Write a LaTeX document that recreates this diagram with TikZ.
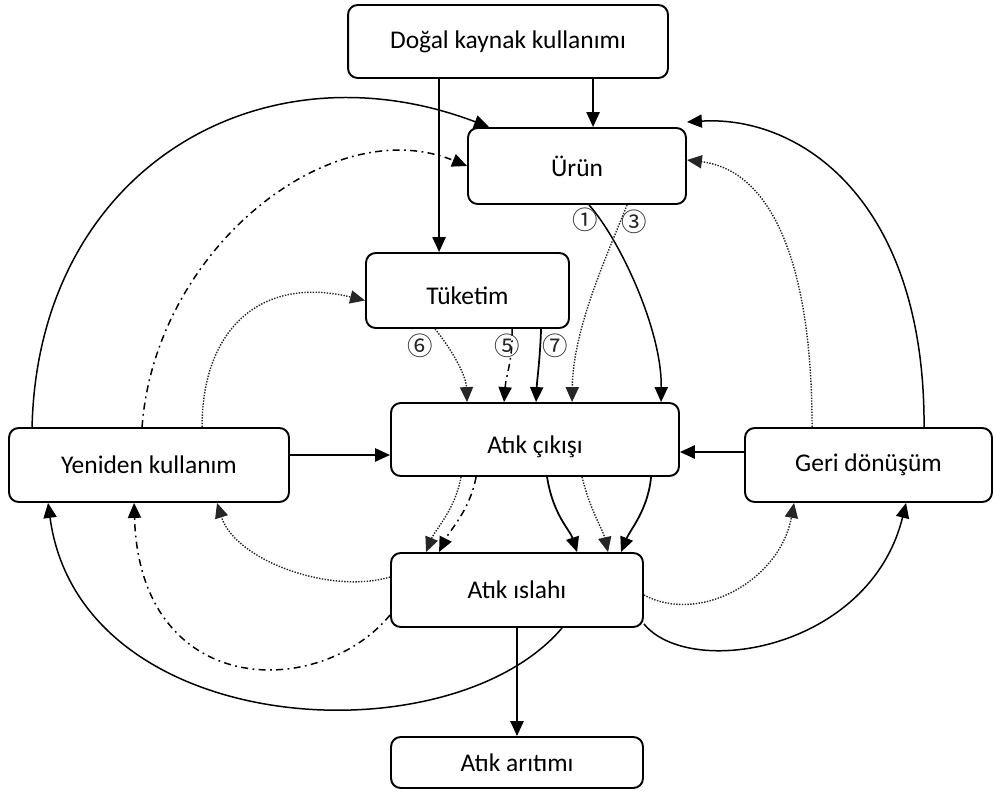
\documentclass[tikz,border=0pt]{standalone}
\usepackage{fontspec}
\setmainfont{Carlito}
\newfontfamily\circfont{Noto Sans CJK JP}
\usetikzlibrary{arrows.meta,calc}

\begin{document}
\begin{tikzpicture}[x=0.02cm,y=-0.02cm,
  box/.style={draw,line width=1.1pt,rounded corners=5.5pt,align=center,
    font=\fontsize{14.5}{17}\selectfont,inner sep=0pt},
  tip/.style={-{Triangle[length=8.5pt,width=7.5pt]}},
  main/.style={tip,line width=1.1pt},
  solidc/.style={tip,line width=0.85pt},
  dotc/.style={tip,line width=0.8pt,draw=black!85,dash pattern=on 0.8pt off 0.8pt},
  dashdotc/.style={tip,line width=0.85pt,dash pattern=on 4pt off 2.5pt on 1pt off 2.5pt},
  num/.style={font=\circfont\fontsize{14.5}{14.5}\selectfont,inner sep=0pt,text=black!85}
]
\useasboundingbox (0,0) rectangle (994,794);

% process boxes
\node[box,minimum width=6.4cm,minimum height=1.46cm]  (doga)   at (508,41.5)  {Doğal kaynak kullanımı};
\node[box,minimum width=4.36cm,minimum height=1.52cm] (urun)   at (577,166)   {Ürün};
\node[box,minimum width=4.06cm,minimum height=1.5cm]  (tuk)    at (467.5,290.5) {\raisebox{-0.28cm}[0pt][0pt]{Tüketim}};
\node[box,minimum width=5.76cm,minimum height=1.46cm] (cikis)  at (535,439.5) {\raisebox{-0.28cm}[0pt][0pt]{Atık çıkışı}};
\node[box,minimum width=5.6cm,minimum height=1.48cm]  (yeni)   at (149,465)   {Yeniden kullanım};
\node[box,minimum width=4.94cm,minimum height=1.48cm] (geri)   at (868.5,465) {Geri dönüşüm};
\node[box,minimum width=5.04cm,minimum height=1.48cm] (islah)  at (517,590)   {Atık ıslahı};
\node[box,minimum width=5.04cm,minimum height=1.02cm] (aritim) at (517,762.5) {Atık arıtımı};

% natural resources
\draw[main] ($(doga.south west)+(246,0)$) coordinate (d1) -- (d1 |- urun.north);
\draw[main] ($(doga.south west)+(92,0)$) coordinate (d2) -- (d2 |- tuk.north);

% reuse back to product and consumption
\draw[solidc] ($(yeni.north west)+(24,0)$) .. controls (38,170) and (260,40) .. ($(urun.north west)+(22,0)$);
\draw[dashdotc] ($(yeni.north west)+(134,0)$) .. controls (155,250) and (330,110) .. (urun.west);
\draw[dotc] ($(yeni.north west)+(194,0)$) .. controls (202,330) and (260,275) .. ($(tuk.west)+(0,10)$);

% recycling back to product
\draw[solidc] ($(geri.north west)+(180,0)$) .. controls (925,200) and (800,115) .. ($(urun.north east)+(0,-5)$);
\draw[dotc] ($(geri.north west)+(68,0)$) .. controls (812,260) and (770,170) .. ($(urun.east)+(0,-6)$);

% product to waste generation
\draw[solidc] ($(urun.south west)+(122,0)$) .. controls (620,240) and (662,330) .. ($(cikis.north west)+(271,0)$);
\draw[dotc] ($(urun.south west)+(160,0)$) .. controls (605,260) and (573,330) .. ($(cikis.north west)+(182,0)$);

% consumption to waste generation
\draw[dotc] ($(tuk.south west)+(70,0)$) .. controls (452,350) and (466,375) .. ($(cikis.north west)+(77,0)$);
\draw[dashdotc] ($(tuk.south west)+(147,0)$) .. controls (513,360) and (506,375) .. ($(cikis.north west)+(114,0)$);
\draw[solidc,line width=1pt] ($(tuk.south west)+(176,0)$) .. controls (540,360) and (537,380) .. ($(cikis.north west)+(146,0)$);

% step labels
\node[num] (n1) at (585,220) {①};
\node[num] (n3) at (634,222) {③};
\node[num] (n6) at (420,346) {⑥};
\node[num] (n5) at (507,346) {⑤};
\node[num] (n7) at (555,346) {⑦};

% waste generation to treatment
\draw[dotc] ($(cikis.south west)+(71,0)$) .. controls (455,510) and (435,530) .. ($(islah.north west)+(36,0)$);
\draw[dashdotc] ($(cikis.south west)+(86,0)$) .. controls (470,510) and (450,530) .. ($(islah.north west)+(49,0)$);
\draw[solidc,line width=1pt] ($(cikis.south west)+(157,0)$) .. controls (553,515) and (570,530) .. ($(islah.north west)+(187,0)$);
\draw[dotc] ($(cikis.south west)+(192,0)$) .. controls (590,510) and (603,530) .. ($(islah.north west)+(218,0)$);
\draw[solidc,line width=1pt] ($(cikis.south west)+(261,0)$) .. controls (648,510) and (630,530) .. ($(islah.north west)+(231,0)$);

% side inputs to waste generation
\draw[main] ($(yeni.east)+(0,-10)$) coordinate (h1) -- (h1 -| cikis.west);
\draw[main] ($(geri.west)+(0,-13)$) coordinate (h2) -- (h2 -| cikis.east);

% treatment back to reuse
\draw[dotc] ($(islah.west)+(0,-13)$) .. controls (330,595) and (235,560) .. ($(yeni.south west)+(209,0)$);
\draw[dashdotc] ($(islah.west)+(0,25)$) .. controls (320,700) and (140,700) .. ($(yeni.south west)+(126,0)$);
\draw[solidc] ($(islah.south west)+(172,0)$) .. controls (450,760) and (80,740) .. ($(yeni.south west)+(40,0)$);

% treatment to recycling
\draw[dotc] ($(islah.east)+(0,5)$) .. controls (700,625) and (780,580) .. ($(geri.south west)+(50,0)$);
\draw[solidc] ($(islah.south east)+(0,-4)$) .. controls (690,680) and (870,650) .. ($(geri.south west)+(162,0)$);

% treatment to disposal
\draw[main] (islah.south) -- (aritim.north);
\end{tikzpicture}
\end{document}
